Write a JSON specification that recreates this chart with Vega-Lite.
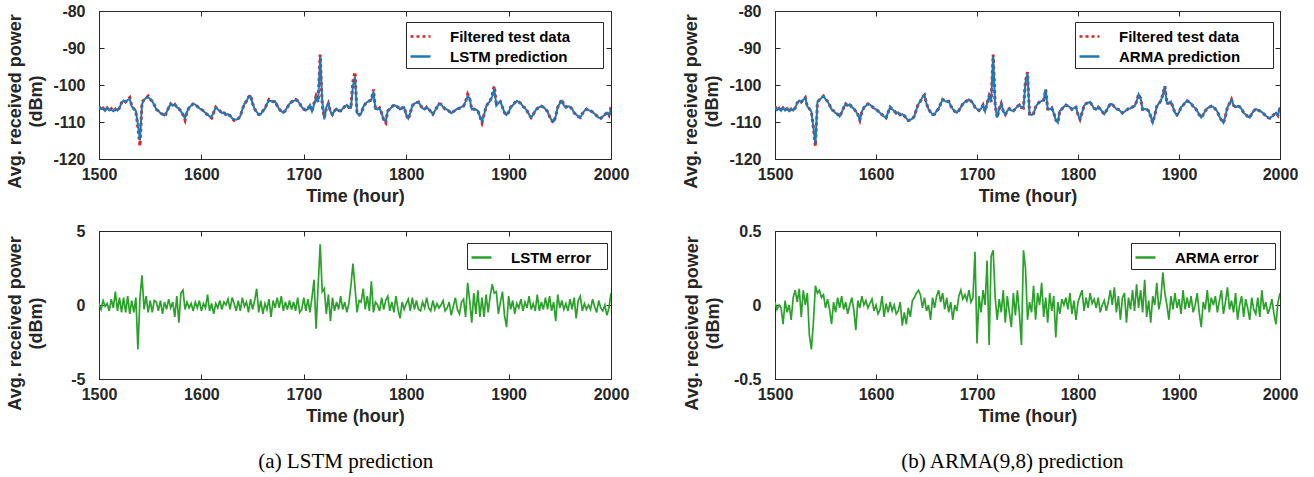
{
"$schema": "https://vega.github.io/schema/vega-lite/v6.json",
"background": "white",
"padding": {"left": 6, "top": 2, "right": 5, "bottom": 4},
"data": {"values": [
{"t":1500,"f":-105.8,"l":-105.8,"a":-105.8,"le":0.1,"ae":0.02},
{"t":1502,"f":-106.8,"l":-106.5,"a":-106.8,"le":-0.3,"ae":-0.03},
{"t":1504,"f":-106.3,"l":-106.3,"a":-106.3,"le":0.3,"ae":0.0},
{"t":1506,"f":-107.0,"l":-107.0,"a":-107.0,"le":-0.1,"ae":-0.02},
{"t":1508,"f":-106.2,"l":-106.2,"a":-106.2,"le":0.1,"ae":-0.13},
{"t":1510,"f":-106.9,"l":-106.9,"a":-106.9,"le":-0.4,"ae":0.03},
{"t":1512,"f":-106.4,"l":-106.7,"a":-106.4,"le":0.4,"ae":-0.05},
{"t":1514,"f":-107.1,"l":-107.1,"a":-107.1,"le":-0.2,"ae":0.0},
{"t":1516,"f":-106.5,"l":-106.5,"a":-106.5,"le":0.9,"ae":-0.1},
{"t":1518,"f":-106.9,"l":-106.9,"a":-106.9,"le":-0.4,"ae":0.05},
{"t":1520,"f":-106.2,"l":-106.2,"a":-106.2,"le":0.5,"ae":0.1},
{"t":1522,"f":-104.8,"l":-104.8,"a":-104.8,"le":-0.5,"ae":0.02},
{"t":1524,"f":-104.2,"l":-104.2,"a":-104.2,"le":0.5,"ae":0.11},
{"t":1526,"f":-104.6,"l":-104.6,"a":-104.6,"le":-0.5,"ae":-0.08},
{"t":1528,"f":-104.0,"l":-104.0,"a":-104.0,"le":0.6,"ae":0.1},
{"t":1530,"f":-103.4,"l":-103.8,"a":-103.4,"le":-0.6,"ae":0.0},
{"t":1532,"f":-105.8,"l":-105.8,"a":-105.8,"le":0.3,"ae":0.08},
{"t":1534,"f":-106.4,"l":-106.4,"a":-106.4,"le":-0.5,"ae":-0.2},
{"t":1536,"f":-107.2,"l":-107.0,"a":-107.2,"le":0.5,"ae":-0.3},
{"t":1538,"f":-111.5,"l":-110.6,"a":-111.5,"le":-3.0,"ae":-0.12},
{"t":1540,"f":-116.5,"l":-115.0,"a":-115.8,"le":0.5,"ae":0.13},
{"t":1542,"f":-104.6,"l":-105.2,"a":-104.6,"le":2.0,"ae":0.08},
{"t":1544,"f":-104.0,"l":-104.0,"a":-104.0,"le":-0.3,"ae":0.1},
{"t":1546,"f":-103.5,"l":-103.5,"a":-103.5,"le":0.6,"ae":0.05},
{"t":1548,"f":-103.0,"l":-103.3,"a":-103.0,"le":-0.5,"ae":0.07},
{"t":1550,"f":-103.8,"l":-103.8,"a":-103.8,"le":0.3,"ae":-0.02},
{"t":1552,"f":-104.4,"l":-104.4,"a":-104.4,"le":-0.5,"ae":0.04},
{"t":1554,"f":-105.4,"l":-105.4,"a":-105.4,"le":0.3,"ae":-0.03},
{"t":1556,"f":-106.6,"l":-106.6,"a":-106.6,"le":0.2,"ae":-0.13},
{"t":1558,"f":-107.0,"l":-107.0,"a":-107.0,"le":-0.4,"ae":0.02},
{"t":1560,"f":-107.6,"l":-107.6,"a":-107.6,"le":0.3,"ae":-0.05},
{"t":1562,"f":-107.9,"l":-107.9,"a":-107.9,"le":-0.6,"ae":0.05},
{"t":1564,"f":-108.5,"l":-108.2,"a":-108.5,"le":0.2,"ae":-0.02},
{"t":1566,"f":-107.4,"l":-107.4,"a":-107.4,"le":-0.3,"ae":0.06},
{"t":1568,"f":-106.1,"l":-106.1,"a":-106.1,"le":0.4,"ae":-0.03},
{"t":1570,"f":-105.1,"l":-105.1,"a":-105.1,"le":-0.2,"ae":0.02},
{"t":1572,"f":-105.6,"l":-105.6,"a":-105.6,"le":0.2,"ae":-0.06},
{"t":1574,"f":-105.2,"l":-105.2,"a":-105.2,"le":-0.8,"ae":0.0},
{"t":1576,"f":-106.0,"l":-106.0,"a":-106.0,"le":0.6,"ae":0.05},
{"t":1578,"f":-106.4,"l":-106.4,"a":-106.4,"le":-1.2,"ae":-0.03},
{"t":1580,"f":-107.1,"l":-107.1,"a":-107.1,"le":0.8,"ae":-0.17},
{"t":1582,"f":-108.0,"l":-108.0,"a":-108.0,"le":1.0,"ae":0.03},
{"t":1584,"f":-109.5,"l":-109.0,"a":-109.5,"le":-0.3,"ae":-0.02},
{"t":1586,"f":-107.2,"l":-107.2,"a":-107.2,"le":0.2,"ae":0.06},
{"t":1588,"f":-106.1,"l":-106.1,"a":-106.1,"le":-0.2,"ae":0.0},
{"t":1590,"f":-105.6,"l":-105.6,"a":-105.6,"le":0.1,"ae":0.03},
{"t":1592,"f":-105.1,"l":-105.1,"a":-105.1,"le":-0.4,"ae":-0.02},
{"t":1594,"f":-105.3,"l":-105.3,"a":-105.3,"le":0.2,"ae":0.01},
{"t":1596,"f":-105.8,"l":-105.8,"a":-105.8,"le":-0.2,"ae":0.04},
{"t":1598,"f":-106.3,"l":-106.3,"a":-106.3,"le":0.3,"ae":-0.04},
{"t":1600,"f":-106.6,"l":-106.6,"a":-106.6,"le":-0.4,"ae":0.0},
{"t":1602,"f":-107.0,"l":-107.0,"a":-107.0,"le":0.1,"ae":-0.06},
{"t":1604,"f":-107.6,"l":-107.6,"a":-107.6,"le":-0.2,"ae":-0.03},
{"t":1606,"f":-108.0,"l":-108.0,"a":-108.0,"le":0.7,"ae":0.06},
{"t":1608,"f":-108.5,"l":-108.5,"a":-108.5,"le":-0.4,"ae":-0.08},
{"t":1610,"f":-108.9,"l":-108.6,"a":-108.9,"le":0.1,"ae":0.01},
{"t":1612,"f":-107.4,"l":-107.4,"a":-107.4,"le":-0.6,"ae":-0.05},
{"t":1614,"f":-106.0,"l":-106.0,"a":-106.0,"le":0.1,"ae":0.02},
{"t":1616,"f":-106.6,"l":-106.6,"a":-106.6,"le":-0.2,"ae":-0.04},
{"t":1618,"f":-107.0,"l":-107.0,"a":-107.0,"le":0.3,"ae":0.0},
{"t":1620,"f":-107.6,"l":-107.6,"a":-107.6,"le":-0.3,"ae":-0.06},
{"t":1622,"f":-107.4,"l":-107.4,"a":-107.4,"le":0.2,"ae":-0.04},
{"t":1624,"f":-108.1,"l":-108.1,"a":-108.1,"le":0.0,"ae":0.02},
{"t":1626,"f":-107.9,"l":-107.9,"a":-107.9,"le":0.4,"ae":-0.14},
{"t":1628,"f":-108.3,"l":-108.3,"a":-108.3,"le":-0.3,"ae":-0.05},
{"t":1630,"f":-109.0,"l":-109.0,"a":-109.0,"le":0.5,"ae":-0.13},
{"t":1632,"f":-109.6,"l":-109.3,"a":-109.6,"le":0.1,"ae":-0.02},
{"t":1634,"f":-109.4,"l":-109.4,"a":-109.4,"le":-0.4,"ae":-0.08},
{"t":1636,"f":-109.1,"l":-109.1,"a":-109.1,"le":0.3,"ae":0.03},
{"t":1638,"f":-108.4,"l":-108.4,"a":-108.4,"le":-0.4,"ae":0.05},
{"t":1640,"f":-106.6,"l":-106.6,"a":-106.6,"le":0.5,"ae":0.08},
{"t":1642,"f":-105.1,"l":-105.1,"a":-105.1,"le":-0.1,"ae":0.1},
{"t":1644,"f":-104.4,"l":-104.4,"a":-104.4,"le":0.2,"ae":0.07},
{"t":1646,"f":-103.3,"l":-103.3,"a":-103.3,"le":-0.5,"ae":-0.02},
{"t":1648,"f":-102.7,"l":-103.0,"a":-102.7,"le":0.4,"ae":0.05},
{"t":1650,"f":-105.0,"l":-105.0,"a":-105.0,"le":-0.3,"ae":-0.04},
{"t":1652,"f":-106.5,"l":-106.5,"a":-106.5,"le":0.3,"ae":0.0},
{"t":1654,"f":-107.3,"l":-107.3,"a":-107.3,"le":1.1,"ae":-0.1},
{"t":1656,"f":-108.0,"l":-108.0,"a":-108.0,"le":-0.5,"ae":0.05},
{"t":1658,"f":-107.9,"l":-107.9,"a":-107.9,"le":0.3,"ae":-0.02},
{"t":1660,"f":-107.0,"l":-107.0,"a":-107.0,"le":-0.6,"ae":0.06},
{"t":1662,"f":-106.4,"l":-106.4,"a":-106.4,"le":0.1,"ae":0.1},
{"t":1664,"f":-105.1,"l":-105.1,"a":-105.1,"le":-0.3,"ae":0.02},
{"t":1666,"f":-103.9,"l":-104.2,"a":-103.9,"le":0.4,"ae":0.08},
{"t":1668,"f":-104.3,"l":-104.3,"a":-104.3,"le":-0.8,"ae":-0.03},
{"t":1670,"f":-104.5,"l":-104.5,"a":-104.5,"le":0.3,"ae":0.05},
{"t":1672,"f":-104.4,"l":-104.4,"a":-104.4,"le":-0.2,"ae":-0.05},
{"t":1674,"f":-105.6,"l":-105.6,"a":-105.6,"le":0.5,"ae":0.02},
{"t":1676,"f":-106.5,"l":-106.5,"a":-106.5,"le":-0.2,"ae":-0.1},
{"t":1678,"f":-107.1,"l":-107.1,"a":-107.1,"le":0.6,"ae":0.0},
{"t":1680,"f":-107.5,"l":-107.5,"a":-107.5,"le":-0.4,"ae":-0.04},
{"t":1682,"f":-106.9,"l":-106.9,"a":-106.9,"le":0.2,"ae":0.06},
{"t":1684,"f":-106.0,"l":-106.0,"a":-106.0,"le":-0.3,"ae":0.1},
{"t":1686,"f":-105.1,"l":-105.1,"a":-105.1,"le":0.3,"ae":0.04},
{"t":1688,"f":-104.6,"l":-104.6,"a":-104.6,"le":-0.3,"ae":0.07},
{"t":1690,"f":-104.3,"l":-104.3,"a":-104.3,"le":0.2,"ae":0.03},
{"t":1692,"f":-103.9,"l":-104.1,"a":-103.9,"le":-0.4,"ae":0.1},
{"t":1694,"f":-104.3,"l":-104.3,"a":-104.3,"le":0.5,"ae":0.02},
{"t":1696,"f":-105.0,"l":-105.0,"a":-105.0,"le":-0.5,"ae":0.05},
{"t":1698,"f":-106.0,"l":-106.0,"a":-106.0,"le":-0.3,"ae":0.36},
{"t":1700,"f":-106.5,"l":-106.5,"a":-106.5,"le":0.5,"ae":-0.26},
{"t":1702,"f":-106.9,"l":-106.9,"a":-106.9,"le":-0.4,"ae":0.06},
{"t":1704,"f":-106.4,"l":-106.4,"a":-106.4,"le":0.4,"ae":-0.05},
{"t":1706,"f":-105.4,"l":-105.4,"a":-105.4,"le":-0.5,"ae":0.1},
{"t":1708,"f":-107.1,"l":-107.1,"a":-107.1,"le":0.5,"ae":0.0},
{"t":1710,"f":-104.9,"l":-105.3,"a":-104.9,"le":1.7,"ae":0.3},
{"t":1712,"f":-103.0,"l":-103.4,"a":-103.0,"le":-1.6,"ae":-0.27},
{"t":1714,"f":-104.6,"l":-104.6,"a":-104.6,"le":1.3,"ae":0.33},
{"t":1716,"f":-91.8,"l":-92.4,"a":-92.1,"le":4.1,"ae":0.37},
{"t":1718,"f":-105.5,"l":-104.3,"a":-105.5,"le":0.9,"ae":0.05},
{"t":1720,"f":-108.8,"l":-109.3,"a":-108.8,"le":1.1,"ae":-0.1},
{"t":1722,"f":-106.4,"l":-106.0,"a":-106.4,"le":-0.6,"ae":0.04},
{"t":1724,"f":-105.0,"l":-105.0,"a":-105.0,"le":0.7,"ae":-0.05},
{"t":1726,"f":-107.1,"l":-107.1,"a":-107.1,"le":-1.1,"ae":0.1},
{"t":1728,"f":-108.0,"l":-108.0,"a":-108.0,"le":0.5,"ae":-0.12},
{"t":1730,"f":-107.0,"l":-107.0,"a":-107.0,"le":-0.4,"ae":0.06},
{"t":1732,"f":-106.4,"l":-106.4,"a":-106.4,"le":0.2,"ae":-0.05},
{"t":1734,"f":-106.9,"l":-106.9,"a":-106.9,"le":-0.3,"ae":-0.15},
{"t":1736,"f":-107.0,"l":-107.0,"a":-107.0,"le":0.6,"ae":0.08},
{"t":1738,"f":-106.4,"l":-106.4,"a":-106.4,"le":-0.3,"ae":-0.07},
{"t":1740,"f":-105.8,"l":-105.8,"a":-105.8,"le":0.2,"ae":0.1},
{"t":1742,"f":-105.4,"l":-105.4,"a":-105.4,"le":-0.5,"ae":-0.06},
{"t":1744,"f":-106.1,"l":-106.1,"a":-106.1,"le":0.1,"ae":-0.27},
{"t":1746,"f":-106.2,"l":-106.2,"a":-106.2,"le":1.3,"ae":0.37},
{"t":1748,"f":-99.0,"l":-100.2,"a":-99.3,"le":2.8,"ae":0.25},
{"t":1750,"f":-96.5,"l":-97.8,"a":-96.9,"le":1.2,"ae":-0.1},
{"t":1752,"f":-107.9,"l":-107.6,"a":-107.9,"le":-0.5,"ae":0.02},
{"t":1754,"f":-108.1,"l":-108.1,"a":-108.1,"le":0.3,"ae":-0.05},
{"t":1756,"f":-107.7,"l":-107.7,"a":-107.7,"le":0.2,"ae":0.13},
{"t":1758,"f":-106.0,"l":-106.0,"a":-106.0,"le":1.1,"ae":-0.1},
{"t":1760,"f":-105.1,"l":-105.1,"a":-105.1,"le":-0.3,"ae":0.08},
{"t":1762,"f":-104.6,"l":-104.6,"a":-104.6,"le":0.6,"ae":0.0},
{"t":1764,"f":-104.3,"l":-104.3,"a":-104.3,"le":-0.4,"ae":0.15},
{"t":1766,"f":-104.1,"l":-104.1,"a":-104.1,"le":1.6,"ae":-0.08},
{"t":1768,"f":-101.2,"l":-101.8,"a":-101.2,"le":-0.5,"ae":0.05},
{"t":1770,"f":-106.5,"l":-106.5,"a":-106.5,"le":0.2,"ae":-0.12},
{"t":1772,"f":-106.6,"l":-106.6,"a":-106.6,"le":0.0,"ae":0.08},
{"t":1774,"f":-106.2,"l":-106.2,"a":-106.2,"le":-0.4,"ae":-0.04},
{"t":1776,"f":-107.6,"l":-107.6,"a":-107.6,"le":0.5,"ae":0.06},
{"t":1778,"f":-109.4,"l":-109.4,"a":-109.4,"le":-0.3,"ae":-0.22},
{"t":1780,"f":-110.2,"l":-109.8,"a":-110.2,"le":0.3,"ae":0.02},
{"t":1782,"f":-107.0,"l":-107.0,"a":-107.0,"le":0.6,"ae":-0.06},
{"t":1784,"f":-106.5,"l":-106.5,"a":-106.5,"le":-0.4,"ae":0.04},
{"t":1786,"f":-105.9,"l":-105.9,"a":-105.9,"le":0.2,"ae":0.0},
{"t":1788,"f":-105.4,"l":-105.4,"a":-105.4,"le":-0.5,"ae":0.05},
{"t":1790,"f":-105.7,"l":-105.7,"a":-105.7,"le":0.6,"ae":-0.03},
{"t":1792,"f":-106.0,"l":-106.0,"a":-106.0,"le":-0.3,"ae":0.08},
{"t":1794,"f":-106.6,"l":-106.6,"a":-106.6,"le":-0.9,"ae":-0.06},
{"t":1796,"f":-106.2,"l":-106.2,"a":-106.2,"le":0.2,"ae":0.03},
{"t":1798,"f":-106.0,"l":-106.0,"a":-106.0,"le":-0.3,"ae":-0.1},
{"t":1800,"f":-108.0,"l":-108.0,"a":-108.0,"le":0.1,"ae":0.02},
{"t":1802,"f":-109.3,"l":-109.0,"a":-109.3,"le":0.4,"ae":0.06},
{"t":1804,"f":-107.5,"l":-107.5,"a":-107.5,"le":-0.4,"ae":0.1},
{"t":1806,"f":-105.6,"l":-105.6,"a":-105.6,"le":0.5,"ae":-0.04},
{"t":1808,"f":-105.0,"l":-105.0,"a":-105.0,"le":-0.3,"ae":0.05},
{"t":1810,"f":-104.8,"l":-104.8,"a":-104.8,"le":0.3,"ae":-0.02},
{"t":1812,"f":-104.6,"l":-104.6,"a":-104.6,"le":-0.3,"ae":0.08},
{"t":1814,"f":-105.5,"l":-105.5,"a":-105.5,"le":-0.4,"ae":0.01},
{"t":1816,"f":-106.3,"l":-106.3,"a":-106.3,"le":0.2,"ae":0.04},
{"t":1818,"f":-106.6,"l":-106.6,"a":-106.6,"le":-0.2,"ae":-0.02},
{"t":1820,"f":-106.0,"l":-106.0,"a":-106.0,"le":0.5,"ae":0.05},
{"t":1822,"f":-106.5,"l":-106.5,"a":-106.5,"le":-0.2,"ae":-0.05},
{"t":1824,"f":-107.2,"l":-107.2,"a":-107.2,"le":-0.4,"ae":0.0},
{"t":1826,"f":-107.9,"l":-107.9,"a":-107.9,"le":0.3,"ae":0.03},
{"t":1828,"f":-107.0,"l":-107.0,"a":-107.0,"le":-0.3,"ae":-0.04},
{"t":1830,"f":-106.0,"l":-106.0,"a":-106.0,"le":0.1,"ae":0.02},
{"t":1832,"f":-105.1,"l":-105.1,"a":-105.1,"le":-0.2,"ae":0.1},
{"t":1834,"f":-105.2,"l":-105.2,"a":-105.2,"le":0.0,"ae":0.0},
{"t":1836,"f":-105.9,"l":-105.9,"a":-105.9,"le":0.3,"ae":0.12},
{"t":1838,"f":-106.5,"l":-106.5,"a":-106.5,"le":-0.4,"ae":-0.05},
{"t":1840,"f":-106.6,"l":-106.6,"a":-106.6,"le":-0.2,"ae":0.06},
{"t":1842,"f":-107.1,"l":-107.1,"a":-107.1,"le":0.2,"ae":-0.1},
{"t":1844,"f":-107.6,"l":-107.6,"a":-107.6,"le":-0.7,"ae":0.05},
{"t":1846,"f":-107.2,"l":-107.2,"a":-107.2,"le":-0.1,"ae":0.08},
{"t":1848,"f":-106.8,"l":-106.8,"a":-106.8,"le":0.5,"ae":-0.12},
{"t":1850,"f":-106.4,"l":-106.4,"a":-106.4,"le":-0.3,"ae":0.05},
{"t":1852,"f":-106.3,"l":-106.3,"a":-106.3,"le":-0.6,"ae":-0.03},
{"t":1854,"f":-105.9,"l":-105.9,"a":-105.9,"le":0.2,"ae":0.1},
{"t":1856,"f":-105.7,"l":-105.7,"a":-105.7,"le":0.4,"ae":-0.04},
{"t":1858,"f":-104.5,"l":-104.5,"a":-104.5,"le":-0.8,"ae":0.14},
{"t":1860,"f":-102.5,"l":-103.0,"a":-102.5,"le":1.5,"ae":-0.02},
{"t":1862,"f":-103.6,"l":-103.6,"a":-103.6,"le":0.3,"ae":0.1},
{"t":1864,"f":-106.6,"l":-106.6,"a":-106.6,"le":-1.2,"ae":-0.05},
{"t":1866,"f":-106.5,"l":-106.5,"a":-106.5,"le":0.8,"ae":0.17},
{"t":1868,"f":-106.6,"l":-106.6,"a":-106.6,"le":-0.6,"ae":-0.08},
{"t":1870,"f":-107.0,"l":-107.0,"a":-107.0,"le":1.0,"ae":0.03},
{"t":1872,"f":-108.5,"l":-108.5,"a":-108.5,"le":-0.8,"ae":-0.12},
{"t":1874,"f":-110.2,"l":-109.8,"a":-110.2,"le":0.5,"ae":0.06},
{"t":1876,"f":-108.1,"l":-108.1,"a":-108.1,"le":-0.8,"ae":0.0},
{"t":1878,"f":-105.8,"l":-105.8,"a":-105.8,"le":0.7,"ae":0.15},
{"t":1880,"f":-105.0,"l":-105.0,"a":-105.0,"le":-0.5,"ae":-0.03},
{"t":1882,"f":-104.3,"l":-104.3,"a":-104.3,"le":0.6,"ae":0.04},
{"t":1884,"f":-102.6,"l":-103.1,"a":-102.6,"le":1.4,"ae":0.22},
{"t":1886,"f":-100.3,"l":-100.9,"a":-100.3,"le":0.8,"ae":0.08},
{"t":1888,"f":-105.0,"l":-105.6,"a":-105.0,"le":0.9,"ae":0.0},
{"t":1890,"f":-104.9,"l":-104.9,"a":-104.9,"le":-0.6,"ae":-0.1},
{"t":1892,"f":-104.5,"l":-104.5,"a":-104.5,"le":0.2,"ae":0.06},
{"t":1894,"f":-106.0,"l":-106.0,"a":-106.0,"le":0.9,"ae":-0.03},
{"t":1896,"f":-107.5,"l":-107.5,"a":-107.5,"le":-0.7,"ae":0.08},
{"t":1898,"f":-108.1,"l":-108.1,"a":-108.1,"le":-1.5,"ae":-0.02},
{"t":1900,"f":-107.4,"l":-107.4,"a":-107.4,"le":0.6,"ae":0.04},
{"t":1902,"f":-106.0,"l":-106.0,"a":-106.0,"le":-0.3,"ae":-0.06},
{"t":1904,"f":-105.5,"l":-105.5,"a":-105.5,"le":0.3,"ae":0.1},
{"t":1906,"f":-104.8,"l":-104.8,"a":-104.8,"le":-0.6,"ae":-0.03},
{"t":1908,"f":-104.3,"l":-104.3,"a":-104.3,"le":0.1,"ae":0.05},
{"t":1910,"f":-104.6,"l":-104.6,"a":-104.6,"le":-0.2,"ae":-0.02},
{"t":1912,"f":-105.0,"l":-105.0,"a":-105.0,"le":0.4,"ae":0.06},
{"t":1914,"f":-105.8,"l":-105.8,"a":-105.8,"le":-0.4,"ae":-0.05},
{"t":1916,"f":-106.2,"l":-106.2,"a":-106.2,"le":0.2,"ae":0.0},
{"t":1918,"f":-107.0,"l":-107.0,"a":-107.0,"le":-0.2,"ae":0.08},
{"t":1920,"f":-108.0,"l":-108.0,"a":-108.0,"le":0.6,"ae":-0.05},
{"t":1922,"f":-108.8,"l":-108.8,"a":-108.8,"le":-0.3,"ae":-0.15},
{"t":1924,"f":-108.0,"l":-108.0,"a":-108.0,"le":0.1,"ae":0.02},
{"t":1926,"f":-107.0,"l":-107.0,"a":-107.0,"le":-0.4,"ae":-0.03},
{"t":1928,"f":-106.3,"l":-106.3,"a":-106.3,"le":0.7,"ae":0.1},
{"t":1930,"f":-106.0,"l":-106.0,"a":-106.0,"le":-0.4,"ae":-0.05},
{"t":1932,"f":-105.7,"l":-105.7,"a":-105.7,"le":0.2,"ae":0.05},
{"t":1934,"f":-106.0,"l":-106.0,"a":-106.0,"le":-0.3,"ae":0.0},
{"t":1936,"f":-106.5,"l":-106.5,"a":-106.5,"le":0.5,"ae":0.06},
{"t":1938,"f":-107.2,"l":-107.2,"a":-107.2,"le":-0.3,"ae":-0.05},
{"t":1940,"f":-108.5,"l":-108.5,"a":-108.5,"le":0.6,"ae":0.03},
{"t":1942,"f":-109.5,"l":-109.5,"a":-109.5,"le":-0.4,"ae":0.1},
{"t":1944,"f":-110.2,"l":-109.8,"a":-110.2,"le":0.2,"ae":-0.06},
{"t":1946,"f":-108.4,"l":-108.4,"a":-108.4,"le":-1.1,"ae":0.02},
{"t":1948,"f":-106.0,"l":-106.0,"a":-106.0,"le":0.7,"ae":0.12},
{"t":1950,"f":-105.0,"l":-105.0,"a":-105.0,"le":-0.2,"ae":-0.03},
{"t":1952,"f":-103.9,"l":-104.3,"a":-103.9,"le":0.3,"ae":0.03},
{"t":1954,"f":-105.5,"l":-105.5,"a":-105.5,"le":-0.3,"ae":-0.05},
{"t":1956,"f":-106.0,"l":-106.0,"a":-106.0,"le":0.1,"ae":0.08},
{"t":1958,"f":-105.7,"l":-105.7,"a":-105.7,"le":-0.4,"ae":-0.1},
{"t":1960,"f":-105.9,"l":-105.9,"a":-105.9,"le":0.4,"ae":0.0},
{"t":1962,"f":-106.5,"l":-106.5,"a":-106.5,"le":-0.3,"ae":0.06},
{"t":1964,"f":-107.5,"l":-107.5,"a":-107.5,"le":0.5,"ae":-0.08},
{"t":1966,"f":-108.0,"l":-108.0,"a":-108.0,"le":-0.9,"ae":0.04},
{"t":1968,"f":-108.5,"l":-108.5,"a":-108.5,"le":0.3,"ae":-0.02},
{"t":1970,"f":-108.8,"l":-108.8,"a":-108.8,"le":0.6,"ae":-0.1},
{"t":1972,"f":-107.8,"l":-107.8,"a":-107.8,"le":-0.4,"ae":0.05},
{"t":1974,"f":-107.0,"l":-107.0,"a":-107.0,"le":0.1,"ae":-0.03},
{"t":1976,"f":-106.5,"l":-106.5,"a":-106.5,"le":-0.3,"ae":-0.06},
{"t":1978,"f":-106.8,"l":-106.8,"a":-106.8,"le":0.0,"ae":0.05},
{"t":1980,"f":-107.0,"l":-107.0,"a":-107.0,"le":-0.3,"ae":-0.08},
{"t":1982,"f":-107.3,"l":-107.3,"a":-107.3,"le":0.4,"ae":0.1},
{"t":1984,"f":-107.8,"l":-107.8,"a":-107.8,"le":-0.1,"ae":-0.03},
{"t":1986,"f":-108.3,"l":-108.3,"a":-108.3,"le":-0.5,"ae":0.02},
{"t":1988,"f":-108.8,"l":-108.8,"a":-108.8,"le":0.3,"ae":-0.06},
{"t":1990,"f":-109.0,"l":-109.0,"a":-109.0,"le":-0.2,"ae":-0.02},
{"t":1992,"f":-108.5,"l":-108.5,"a":-108.5,"le":-0.4,"ae":0.04},
{"t":1994,"f":-108.0,"l":-108.0,"a":-108.0,"le":0.0,"ae":-0.06},
{"t":1996,"f":-107.5,"l":-107.5,"a":-107.5,"le":-0.7,"ae":-0.13},
{"t":1998,"f":-108.2,"l":-108.2,"a":-108.2,"le":-0.2,"ae":0.02},
{"t":2000,"f":-106.0,"l":-106.4,"a":-106.0,"le":0.8,"ae":0.08}
]},
"hconcat": [
  {
    "title": {"text": "(a) LSTM prediction", "orient": "bottom", "anchor": "middle", "frame": "bounds", "dx": 28, "font": "Liberation Serif", "fontSize": 21, "fontWeight": "normal", "color": "#000000", "offset": 25},
    "spacing": 16,
    "resolve": {"scale": {"color": "independent", "strokeDash": "independent", "x": "independent", "y": "independent"}},
    "vconcat": [
      {
        "width": 512, "height": 148,
        "resolve": {"axis": {"x": "independent", "y": "independent"}},
        "layer": [
          {
            "mark": {"type": "line", "strokeWidth": 3, "strokeCap": "butt", "clip": true},
            "encoding": {
              "x": {"field": "t", "type": "quantitative", "scale": {"domain": [1500, 2000], "nice": false, "zero": false}, "axis": {"values": [1500, 1600, 1700, 1800, 1900, 2000], "tickCount": 20, "title": "Time (hour)", "labelExpr": "'' + datum.value", "labelOverlap": false}},
              "y": {"field": "f", "type": "quantitative", "scale": {"domain": [-120, -80], "nice": false, "zero": false}, "axis": {"values": [-120, -110, -100, -90, -80], "tickCount": 20, "title": ["Avg. received power", "(dBm)"], "labelExpr": "'' + datum.value", "labelOverlap": false, "titleY": 90}},
              "color": {"datum": "Filtered test data", "type": "nominal", "scale": {"domain": ["Filtered test data", "LSTM prediction"], "range": ["#d62728", "#1f77b4"]}, "legend": {"title": null, "orient": "none", "legendX": 307, "legendY": 11, "labelExpr": "datum.label + '\u00a0\u00a0\u00a0\u00a0\u00a0\u00a0\u00a0\u200b'"}},
              "strokeDash": {"datum": "Filtered test data", "type": "nominal", "scale": {"domain": ["Filtered test data", "LSTM prediction"], "range": [[3, 3], [1, 0]]}, "legend": {"title": null, "orient": "none", "legendX": 307, "legendY": 11, "labelExpr": "datum.label + '\u00a0\u00a0\u00a0\u00a0\u00a0\u00a0\u00a0\u200b'"}}
            }
          },
          {
            "mark": {"type": "line", "strokeWidth": 2, "clip": true},
            "encoding": {
              "x": {"field": "t", "type": "quantitative", "axis": {"orient": "top", "values": [1500, 1600, 1700, 1800, 1900, 2000], "tickCount": 20, "labels": false, "title": null, "domain": false}},
              "y": {"field": "l", "type": "quantitative", "axis": {"orient": "right", "values": [-120, -110, -100, -90, -80], "tickCount": 20, "labels": false, "title": null, "domain": false}},
              "color": {"datum": "LSTM prediction", "type": "nominal"},
              "strokeDash": {"datum": "LSTM prediction", "type": "nominal"}
            }
          }
        ]
      },
      {
        "width": 512, "height": 148,
        "resolve": {"axis": {"x": "independent", "y": "independent"}},
        "layer": [
          {
            "mark": {"type": "line", "strokeWidth": 1.7, "clip": true},
            "encoding": {
              "x": {"field": "t", "type": "quantitative", "scale": {"domain": [1500, 2000], "nice": false, "zero": false}, "axis": {"values": [1500, 1600, 1700, 1800, 1900, 2000], "tickCount": 20, "title": "Time (hour)", "labelExpr": "'' + datum.value", "labelOverlap": false}},
              "y": {"field": "le", "type": "quantitative", "scale": {"domain": [-5, 5], "nice": false}, "axis": {"values": [-5, 0, 5], "tickCount": 20, "title": ["Avg. received power", "(dBm)"], "labelExpr": "'' + datum.value", "labelOverlap": false, "titlePadding": 25, "titleY": 92}},
              "color": {"datum": "LSTM error", "type": "nominal", "scale": {"domain": ["LSTM error"], "range": ["#2ca02c"]}, "legend": {"title": null, "orient": "none", "legendX": 368, "legendY": 12, "labelExpr": "datum.label + '\u00a0\u00a0\u00a0\u200b'"}}
            }
          },
          {
            "mark": {"type": "line", "strokeOpacity": 0, "clip": true},
            "encoding": {
              "x": {"field": "t", "type": "quantitative", "axis": {"orient": "top", "values": [1500, 1600, 1700, 1800, 1900, 2000], "tickCount": 20, "labels": false, "title": null, "domain": false}},
              "y": {"field": "le", "type": "quantitative", "axis": {"orient": "right", "values": [-5, 0, 5], "tickCount": 20, "labels": false, "title": null, "domain": false}}
            }
          }
        ]
      }
    ]
  },
  {
    "title": {"text": "(b) ARMA(9,8) prediction", "orient": "bottom", "anchor": "middle", "frame": "bounds", "dx": 22, "font": "Liberation Serif", "fontSize": 21, "fontWeight": "normal", "color": "#000000", "offset": 25},
    "spacing": 16,
    "resolve": {"scale": {"color": "independent", "strokeDash": "independent", "x": "independent", "y": "independent"}},
    "vconcat": [
      {
        "width": 505, "height": 148,
        "resolve": {"axis": {"x": "independent", "y": "independent"}},
        "layer": [
          {
            "mark": {"type": "line", "strokeWidth": 3, "strokeCap": "butt", "clip": true},
            "encoding": {
              "x": {"field": "t", "type": "quantitative", "scale": {"domain": [1500, 2000], "nice": false, "zero": false}, "axis": {"values": [1500, 1600, 1700, 1800, 1900, 2000], "tickCount": 20, "title": "Time (hour)", "labelExpr": "'' + datum.value", "labelOverlap": false}},
              "y": {"field": "f", "type": "quantitative", "scale": {"domain": [-120, -80], "nice": false, "zero": false}, "axis": {"values": [-120, -110, -100, -90, -80], "tickCount": 20, "title": ["Avg. received power", "(dBm)"], "labelExpr": "'' + datum.value", "labelOverlap": false, "titleY": 90}},
              "color": {"datum": "Filtered test data", "type": "nominal", "scale": {"domain": ["Filtered test data", "ARMA prediction"], "range": ["#d62728", "#1f77b4"]}, "legend": {"title": null, "orient": "none", "legendX": 300, "legendY": 11, "labelExpr": "datum.label + '\u00a0\u00a0\u00a0\u00a0\u00a0\u00a0\u00a0\u200b'"}},
              "strokeDash": {"datum": "Filtered test data", "type": "nominal", "scale": {"domain": ["Filtered test data", "ARMA prediction"], "range": [[3, 3], [1, 0]]}, "legend": {"title": null, "orient": "none", "legendX": 300, "legendY": 11, "labelExpr": "datum.label + '\u00a0\u00a0\u00a0\u00a0\u00a0\u00a0\u00a0\u200b'"}}
            }
          },
          {
            "mark": {"type": "line", "strokeWidth": 2, "clip": true},
            "encoding": {
              "x": {"field": "t", "type": "quantitative", "axis": {"orient": "top", "values": [1500, 1600, 1700, 1800, 1900, 2000], "tickCount": 20, "labels": false, "title": null, "domain": false}},
              "y": {"field": "a", "type": "quantitative", "axis": {"orient": "right", "values": [-120, -110, -100, -90, -80], "tickCount": 20, "labels": false, "title": null, "domain": false}},
              "color": {"datum": "ARMA prediction", "type": "nominal"},
              "strokeDash": {"datum": "ARMA prediction", "type": "nominal"}
            }
          }
        ]
      },
      {
        "width": 505, "height": 148,
        "resolve": {"axis": {"x": "independent", "y": "independent"}},
        "layer": [
          {
            "mark": {"type": "line", "strokeWidth": 1.7, "clip": true},
            "encoding": {
              "x": {"field": "t", "type": "quantitative", "scale": {"domain": [1500, 2000], "nice": false, "zero": false}, "axis": {"values": [1500, 1600, 1700, 1800, 1900, 2000], "tickCount": 20, "title": "Time (hour)", "labelExpr": "'' + datum.value", "labelOverlap": false}},
              "y": {"field": "ae", "type": "quantitative", "scale": {"domain": [-0.5, 0.5], "nice": false}, "axis": {"values": [-0.5, 0, 0.5], "tickCount": 20, "title": ["Avg. received power", "(dBm)"], "labelExpr": "'' + datum.value", "labelOverlap": false, "titlePadding": 11, "titleY": 92}},
              "color": {"datum": "ARMA error", "type": "nominal", "scale": {"domain": ["ARMA error"], "range": ["#2ca02c"]}, "legend": {"title": null, "orient": "none", "legendX": 356, "legendY": 12, "labelExpr": "datum.label + '\u00a0\u00a0\u00a0\u200b'"}}
            }
          },
          {
            "mark": {"type": "line", "strokeOpacity": 0, "clip": true},
            "encoding": {
              "x": {"field": "t", "type": "quantitative", "axis": {"orient": "top", "values": [1500, 1600, 1700, 1800, 1900, 2000], "tickCount": 20, "labels": false, "title": null, "domain": false}},
              "y": {"field": "ae", "type": "quantitative", "axis": {"orient": "right", "values": [-0.5, 0, 0.5], "tickCount": 20, "labels": false, "title": null, "domain": false}}
            }
          }
        ]
      }
    ]
  }
],
"spacing": 52,
"resolve": {"scale": {"color": "independent", "strokeDash": "independent", "x": "independent", "y": "independent"}},
"config": {
  "font": "Liberation Sans",
  "view": {"stroke": "#262626", "strokeWidth": 1},
  "axis": {"domainColor": "#262626", "tickColor": "#262626", "tickSize": -5, "labelFont": "Liberation Sans", "labelFontSize": 16, "labelFontWeight": "bold", "labelColor": "#262626", "titleFont": "Liberation Sans", "titleFontSize": 18, "titleFontWeight": "bold", "titleColor": "#262626", "grid": false, "labelFlush": false, "labelOverlap": false},
  "axisX": {"labelPadding": 12, "titlePadding": 5},
  "axisY": {"labelPadding": 19, "titlePadding": 7, "titleLineHeight": 21},
  "legend": {"labelFont": "Liberation Sans", "labelFontSize": 15, "labelFontWeight": "bold", "labelColor": "#000000", "labelLimit": 400, "strokeColor": "#262626", "fillColor": "white", "padding": 3, "symbolType": "stroke", "symbolSize": 400, "symbolStrokeWidth": 2.5, "rowPadding": 0, "labelOffset": 18, "cornerRadius": 0}
}
}
